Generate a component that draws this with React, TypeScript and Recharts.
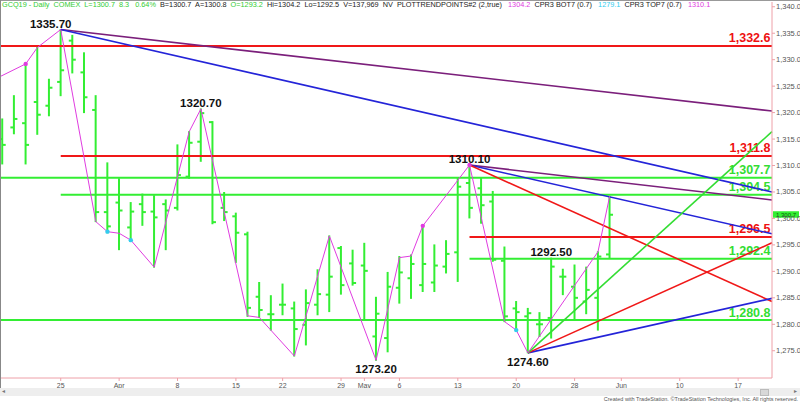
import React from 'react';
import { ComposedChart, Bar, Line, XAxis, YAxis, ReferenceLine, ReferenceDot } from 'recharts';

// trading day index, 0 = Mar 25
const dayIndex = [-5, -4, -3, -2, -1, 0, 1, 2, 3, 4, 5, 6, 7, 8, 9, 10, 11, 12, 13, 14, 15, 16, 17, 18, 19, 20, 21, 22, 23, 24, 25, 26, 27, 28, 29, 30, 31, 32, 33, 34, 35, 36, 37, 38, 39, 40, 41, 42, 43, 44, 45, 46, 47];
const opens = [1315.0, 1317.2, 1318.0, 1322.0, 1321.3, 1325.8, 1333.6, 1327.6, 1320.5, 1301.2, 1303.0, 1298.3, 1302.7, 1301.3, 1302.7, 1302.0, 1307.9, 1314.5, 1318.2, 1302.0, 1300.4, 1297.0, 1285.2, 1281.9, 1283.7, 1283.0, 1279.9, 1283.7, 1285.6, 1294.4, 1291.5, 1291.1, 1277.7, 1277.4, 1286.9, 1288.7, 1287.4, 1287.9, 1290.9, 1293.6, 1306.7, 1305.7, 1303.2, 1292.0, 1283.0, 1281.5, 1280.0, 1281.2, 1289.0, 1287.1, 1284.3, 1285.0, 1293.2];
const highs = [1318.8, 1323.2, 1329.2, 1332.3, 1326.3, 1335.7, 1334.6, 1331.3, 1323.2, 1310.5, 1307.5, 1303.0, 1304.6, 1304.3, 1303.5, 1313.9, 1316.4, 1320.7, 1318.3, 1304.9, 1301.0, 1297.4, 1287.9, 1285.4, 1287.6, 1284.2, 1286.5, 1290.3, 1296.7, 1294.7, 1294.0, 1295.3, 1285.1, 1289.8, 1292.8, 1293.1, 1298.6, 1295.0, 1295.8, 1307.6, 1310.1, 1307.6, 1305.1, 1294.6, 1284.3, 1283.0, 1282.2, 1292.5, 1290.4, 1291.2, 1290.8, 1293.7, 1304.2];
const lows = [1310.3, 1316.0, 1310.3, 1315.9, 1319.4, 1323.2, 1327.5, 1320.0, 1299.4, 1297.3, 1294.1, 1295.9, 1298.7, 1290.8, 1294.1, 1301.6, 1307.6, 1310.8, 1299.0, 1299.6, 1291.7, 1281.5, 1281.3, 1278.9, 1281.8, 1274.0, 1276.1, 1281.8, 1282.4, 1285.7, 1287.4, 1281.0, 1273.2, 1274.8, 1284.0, 1284.9, 1286.2, 1286.2, 1289.7, 1288.1, 1300.1, 1299.1, 1291.9, 1280.5, 1278.9, 1274.6, 1277.7, 1277.4, 1285.6, 1280.8, 1282.0, 1278.9, 1292.5];
const closes = [1313.9, 1318.8, 1313.9, 1319.6, 1324.7, 1328.0, 1330.0, 1322.9, 1301.2, 1298.5, 1301.5, 1301.3, 1301.2, 1300.2, 1301.5, 1308.2, 1314.3, 1319.9, 1299.3, 1301.2, 1297.3, 1283.1, 1282.7, 1281.9, 1283.7, 1279.1, 1284.0, 1285.7, 1289.0, 1287.4, 1287.8, 1290.1, 1282.0, 1287.1, 1289.8, 1291.4, 1291.4, 1291.1, 1293.3, 1306.0, 1302.0, 1302.5, 1292.2, 1281.5, 1282.3, 1282.1, 1280.0, 1290.9, 1289.0, 1285.0, 1286.5, 1292.8, 1300.7];

// zigzag swing line
const swingIdx = [-5.2, -3, -2, 0, 3, 4, 5, 6, 8, 10, 11, 12, 16, 17, 20, 23, 27, 29, 30, 31, 35, 38, 39, 40, 46, 47];
const swingPrice = [1326.8, 1329.2, 1332.3, 1335.7, 1299.4, 1297.5, 1297.2, 1295.9, 1290.8, 1307.9, 1316.4, 1320.7, 1281.6, 1281.3, 1274.0, 1296.7, 1273.2, 1292.6, 1292.9, 1298.6, 1310.1, 1280.5, 1278.9, 1274.6, 1293.7, 1304.2];
const magentaDotIdx = [-3, 31, 35];
const magentaDotPrice = [1329.2, 1298.6, 1310.1];
const cyanDotIdx = [4, 6, 39];
const cyanDotPrice = [1297.5, 1295.9, 1278.9];

// swing labels
const pivotIdx = [0, 12, 35, 42, 40, 27];
const pivotPrice = [1335.7, 1320.7, 1310.1, 1292.5, 1274.6, 1273.2];
const pivotText = ['1335.70', '1320.70', '1310.10', '1292.50', '1274.60', '1273.20'];
const pivotAbove = [true, true, true, true, false, false];

// horizontal levels
const levelValues = [1332.6, 1311.8, 1307.7, 1304.5, 1296.5, 1292.4, 1280.8];
const levelStart = [-5.2, 0, -5.2, 0, 35, 35, -5.2];
const levelText = ['1,332.6', '1,311.8', '1,307.7', '1,304.5', '1,296.5', '1,292.4', '1,280.8'];
const levelIsRed = [true, true, false, false, true, false, false];

// trendlines
const trendFromIdx = [0, 0, 35, 35, 35, 40, 40, 40];
const trendFromPrice = [1335.7, 1335.7, 1310.1, 1310.1, 1310.1, 1274.6, 1274.6, 1274.6];
const trendToPrice = [1320.3, 1305.0, 1303.5, 1297.1, 1284.3, 1284.9, 1295.4, 1316.4];
const trendColors = ['#7b1f7b', '#2424d8', '#7b1f7b', '#2424d8', '#f01818', '#2424d8', '#f01818', '#33dd33'];

const xTickIdx = [0, 5, 10, 15, 19, 24, 26, 29, 34, 39, 44, 48, 53, 58];
const xTickLabels = ['25', 'Apr', '8', '15', '22', '29', 'May', '6', '13', '20', '28', 'Jun', '10', '17'];
const yTicks = [1275, 1280, 1285, 1290, 1295, 1300, 1305, 1310, 1315, 1320, 1325, 1330, 1335, 1340];
const lastPrice = 1300.7;

const X_MIN = -5.2;
const X_MAX = 60.9;
const BAR_GREEN = '#33ee33';
const AXIS_PINK = '#eea0a8';
const FONT = 'Arial, "Liberation Sans", sans-serif';

const bars = dayIndex.map((d, k) => ({
  i: d,
  range: [lows[k], highs[k]],
  open: opens[k],
  high: highs[k],
  low: lows[k],
  close: closes[k],
}));
const swing = swingIdx.map((d, k) => ({ i: d, p: swingPrice[k] }));

const fmt = (v: number) => v.toLocaleString('en-US', { minimumFractionDigits: 1, maximumFractionDigits: 1 });

const OhlcBar = (props: any) => {
  const { x, y, width, height, payload } = props;
  if (x == null || y == null) return null;
  const cx = x + width / 2;
  const top = Math.min(y, y + height);
  const bot = Math.max(y, y + height);
  const span = payload.high - payload.low || 1;
  const py = (p: number) => top + ((payload.high - p) / span) * (bot - top);
  return (
    <g stroke={BAR_GREEN} strokeWidth={2}>
      <line x1={cx} x2={cx} y1={top - 0.5} y2={bot + 0.5} />
      <line x1={cx - 3.5} x2={cx} y1={py(payload.open)} y2={py(payload.open)} />
      <line x1={cx} x2={cx + 3.5} y1={py(payload.close)} y2={py(payload.close)} />
    </g>
  );
};

const YTick = ({ x, y, payload }: any) => (
  <g>
    <line x1={x} x2={x + 3} y1={y} y2={y} stroke={AXIS_PINK} />
    <text x={x + 4} y={y + 2.5} fontSize={7.5} fill="#555" fontFamily={FONT}>
      {fmt(payload.value)}
    </text>
  </g>
);

const XTick = ({ x, y, payload }: any) => {
  const k = xTickIdx.indexOf(payload.value);
  return (
    <g>
      <line x1={x} x2={x} y1={y} y2={y + 3} stroke={AXIS_PINK} />
      <text x={x} y={y + 9.5} fontSize={7} fill="#555" textAnchor="middle" fontFamily={FONT}>
        {xTickLabels[k]}
      </text>
    </g>
  );
};

export default function App() {
  return (
    <div style={{ position: 'fixed', left: 0, top: 0, width: 800, height: 402, background: '#fff', overflow: 'hidden' }}>
      <ComposedChart width={800} height={402} data={bars} margin={{ top: 2, right: 0, bottom: 0, left: 0 }}>
        <XAxis
          type="number"
          dataKey="i"
          domain={[X_MIN, X_MAX]}
          allowDataOverflow
          ticks={xTickIdx}
          tick={<XTick />}
          tickSize={0}
          tickMargin={0}
          height={24}
          axisLine={{ stroke: AXIS_PINK }}
          tickLine={false}
          interval={0}
        />
        <YAxis
          orientation="right"
          domain={[1269.85, 1340.9]}
          allowDataOverflow
          ticks={yTicks}
          tick={<YTick />}
          tickSize={0}
          tickMargin={0}
          width={28}
          axisLine={{ stroke: AXIS_PINK }}
          tickLine={false}
          interval={0}
        />

        {levelValues.map((v, k) => (
          <ReferenceLine
            key={'lv' + k}
            segment={[{ x: levelStart[k], y: v }, { x: X_MAX, y: v }]}
            stroke={levelIsRed[k] ? '#f01818' : BAR_GREEN}
            strokeWidth={2}
            label={(p: any) => {
              const vb = p.viewBox || {};
              return (
                <text
                  x={vb.x + vb.width - 1.5}
                  y={vb.y - 3.5}
                  textAnchor="end"
                  fontSize={12.5}
                  fontWeight="bold"
                  fontFamily={FONT}
                  fill={levelIsRed[k] ? '#ee1111' : '#33dd33'}
                >
                  {levelText[k]}
                </text>
              );
            }}
          />
        ))}

        {trendFromIdx.map((d, k) => (
          <ReferenceLine
            key={'tr' + k}
            segment={[{ x: d, y: trendFromPrice[k] }, { x: X_MAX, y: trendToPrice[k] }]}
            stroke={trendColors[k]}
            strokeWidth={1.6}
          />
        ))}

        <Bar dataKey="range" barSize={6} shape={<OhlcBar />} isAnimationActive={false} />

        <Line
          data={swing}
          dataKey="p"
          type="linear"
          stroke="#e03ce0"
          strokeWidth={1}
          dot={false}
          activeDot={false}
          isAnimationActive={false}
        />

        {magentaDotIdx.map((d, k) => (
          <ReferenceDot key={'md' + k} x={d} y={magentaDotPrice[k]} r={2.2} fill="#e03ce0" stroke="none" />
        ))}
        {cyanDotIdx.map((d, k) => (
          <ReferenceDot key={'cd' + k} x={d} y={cyanDotPrice[k]} r={2.2} fill="#33ccee" stroke="none" />
        ))}

        {pivotIdx.map((d, k) => (
          <ReferenceDot
            key={'pv' + k}
            x={d}
            y={pivotPrice[k]}
            r={0}
            fill="none"
            stroke="none"
            label={(p: any) => {
              const vb = p.viewBox || {};
              const cx = vb.x + (vb.width || 0) / 2 + (k === 0 ? -10 : 0);
              const cy = vb.y + (vb.height || 0) / 2;
              return (
                <text
                  x={cx}
                  y={pivotAbove[k] ? cy - 2 : cy + 13}
                  textAnchor="middle"
                  fontSize={11.5}
                  fontWeight="bold"
                  fontFamily={FONT}
                  fill="#111"
                >
                  {pivotText[k]}
                </text>
              );
            }}
          />
        ))}

        <ReferenceDot
          x={X_MAX}
          y={lastPrice}
          r={0}
          fill="none"
          stroke="none"
          label={(p: any) => {
            const vb = p.viewBox || {};
            return (
              <g>
                <rect x={vb.x + 1} y={vb.y - 3.5} width={26} height={6.5} fill={BAR_GREEN} />
                <text x={vb.x + 14} y={vb.y + 1.8} textAnchor="middle" fontSize={6} fill="#0b5a0b" fontFamily={FONT}>
                  {fmt(lastPrice)}
                </text>
              </g>
            );
          }}
        />
      </ComposedChart>

      <div
        style={{
          position: 'absolute',
          left: 2,
          top: 0,
          fontFamily: FONT,
          fontSize: 7.3,
          lineHeight: '9px',
          whiteSpace: 'pre',
          color: '#222',
        }}
      >
        <span style={{ color: '#33cc33' }}>GCQ19 - Daily  COMEX  L=1300.7  8.3   0.64%</span>
        {'  B=1300.7  A=1300.8  '}
        <span style={{ color: '#33cc33' }}>O=1293.2</span>
        {'  Hi=1304.2  Lo=1292.5  V=137,969  NV  PLOTTRENDPOINTS#2 (2,true)   '}
        <span style={{ color: '#e03ce0' }}>1304.2</span>
        {'  CPR3 BOT7 (0.7)   '}
        <span style={{ color: '#33ccee' }}>1279.1</span>
        {'  CPR3 TOP7 (0.7)   '}
        <span style={{ color: '#e03ce0' }}>1310.1</span>
      </div>

      <div style={{ position: 'absolute', left: 0, top: 0, width: 800, height: 0, borderTop: '1px solid #999' }} />
      <div style={{ position: 'absolute', left: 0, top: 0, width: 0, height: 390, borderLeft: '1px solid #888' }} />
      <div style={{ position: 'absolute', left: 0, top: 388, width: 800, height: 8, background: '#eeeeee' }} />
      <div style={{ position: 'absolute', left: 760, top: 389, width: 7, height: 5, background: '#d8d8d8', border: '1px solid #bbb' }} />
      <div style={{ position: 'absolute', left: 2, top: 387, fontSize: 6, color: '#777', fontFamily: FONT }}>◂</div>
      <div style={{ position: 'absolute', left: 794, top: 387, fontSize: 6, color: '#777', fontFamily: FONT }}>▸</div>
      <div
        style={{
          position: 'absolute',
          right: 2,
          top: 395.5,
          fontSize: 5.5,
          lineHeight: '6px',
          color: '#555',
          fontFamily: FONT,
          whiteSpace: 'nowrap',
        }}
      >
        Created with TradeStation. ©TradeStation Technologies, Inc. All rights reserved.
      </div>
    </div>
  );
}
